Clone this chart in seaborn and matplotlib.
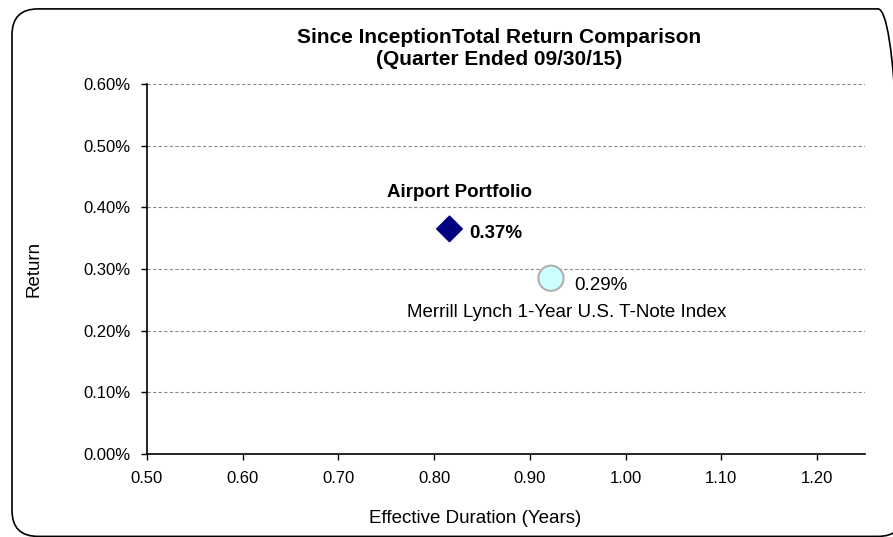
import matplotlib.pyplot as plt
import matplotlib.ticker as mticker
import pandas as pd
import seaborn as sns
from matplotlib.patches import FancyBboxPatch

# Data
names = ["Airport Portfolio", "Merrill Lynch 1-Year U.S. T-Note Index"]
durations = [0.816, 0.922]
returns = [0.365, 0.285]
value_labels = ["0.37%", "0.29%"]

df = pd.DataFrame({"name": names, "duration": durations, "ret": returns})

sns.set_style("white")
plt.rcParams["font.family"] = ["Liberation Sans", "DejaVu Sans"]
plt.rcParams.update({"text.color": "black", "axes.labelcolor": "black",
                     "xtick.color": "black", "ytick.color": "black"})

fig = plt.figure(figsize=(8.93, 5.37), dpi=100)
ax = fig.add_axes([0.1646, 0.1546, 0.804, 0.689])

# Rounded frame round the whole chart (in inches, runs just past the right edge)
frame = FancyBboxPatch((0.12, 0.006), 8.92, 5.275, boxstyle="round,pad=0,rounding_size=0.26",
                       transform=fig.dpi_scale_trans, fill=False, edgecolor="black",
                       linewidth=1.2, clip_on=False)
fig.patches.append(frame)

sns.scatterplot(data=df, x="duration", y="ret", hue="name", style="name",
                markers={names[0]: "D", names[1]: "o"},
                palette={names[0]: "#000080", names[1]: "#CCFFFF"},
                ax=ax, legend=False, zorder=3)
cols = ax.collections[0]
cols.set_edgecolors(["#000080", "#B0B0B0"])
cols.set_sizes([170, 330])
cols.set_linewidths([1, 1.5])

ax.set_xlim(0.5, 1.25)
ax.set_ylim(0, 0.6)
ax.set_xticks([0.5, 0.6, 0.7, 0.8, 0.9, 1.0, 1.1, 1.2])
ax.set_yticks([0, 0.1, 0.2, 0.3, 0.4, 0.5, 0.6])
ax.xaxis.set_major_formatter(mticker.FormatStrFormatter("%.2f"))
ax.yaxis.set_major_formatter(mticker.FuncFormatter(lambda v, p: f"{v:.2f}%"))
ax.tick_params(axis="both", direction="out", length=4, width=1, color="black",
               labelsize=12, bottom=True, left=True)
ax.tick_params(axis="x", pad=8)
ax.tick_params(axis="y", pad=8)
ax.yaxis.grid(True, linestyle=(0, (3, 2)), color="#8C8C8C", linewidth=0.8)
ax.set_axisbelow(True)
for side in ["top", "right"]:
    ax.spines[side].set_visible(False)
for side in ["left", "bottom"]:
    ax.spines[side].set_color("black")
    ax.spines[side].set_linewidth(1.2)

ax.set_xlabel("Effective Duration (Years)", fontsize=13.5)
ax.xaxis.set_label_coords(0.457, -0.152)
ax.set_ylabel("Return", fontsize=13.5)
ax.yaxis.set_label_coords(-0.146, 0.5)
fig.text(0.559, 0.9097, "Since InceptionTotal Return Comparison\n(Quarter Ended 09/30/15)",
         ha="center", va="center", fontsize=15, fontweight="bold", linespacing=1.2)

# Point labels
ax.annotate(names[0], (durations[0], returns[0]), xytext=(7, 26.5), textcoords="offset points",
            ha="center", va="center", fontsize=13.5, fontweight="bold")
ax.annotate(value_labels[0], (durations[0], returns[0]), xytext=(14.4, -3.6), textcoords="offset points",
            ha="left", va="center", fontsize=13.5, fontweight="bold")
ax.annotate(value_labels[1], (durations[1], returns[1]), xytext=(16.5, -5), textcoords="offset points",
            ha="left", va="center", fontsize=13.5)
ax.annotate(names[1], (durations[1], returns[1]), xytext=(11.5, -24.5), textcoords="offset points",
            ha="center", va="center", fontsize=13.5)

fig.savefig("out.png", dpi=100)
